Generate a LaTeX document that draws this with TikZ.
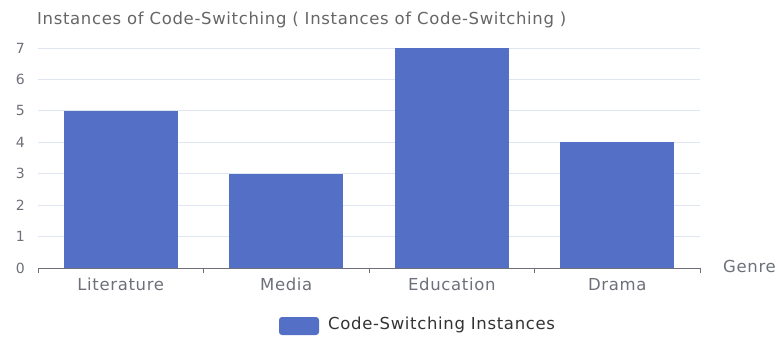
\documentclass[tikz,border=0pt]{standalone}
\usepackage{fontspec}
\setmainfont{DejaVu Sans}[LetterSpace=4]
\usepackage{tikz}
\usetikzlibrary{positioning}
\definecolor{barblue}{HTML}{5470C6}
\definecolor{gridgray}{HTML}{E0E6F1}
\definecolor{axisgray}{HTML}{6E7079}
\definecolor{titlegray}{HTML}{666666}
\tikzstyle{bar}=[fill=barblue]
\tikzstyle{gridline}=[draw=gridgray,line width=0.9pt]
\tikzstyle{axis}=[draw=axisgray,line width=1pt]
\tikzstyle{ylab}=[anchor=east,inner sep=0pt,text=axisgray,font=\fontsize{14}{14}\selectfont]
\tikzstyle{xlab}=[anchor=base,inner sep=0pt,text=axisgray,font=\fontsize{16.5}{16.5}\selectfont]
\tikzstyle{titre}=[anchor=base west,inner sep=0pt,text=titlegray,font=\fontsize{16.5}{16.5}\selectfont]
\tikzstyle{legende}=[anchor=base west,inner sep=0pt,text=black!80,font=\fontsize{16.5}{16.5}\selectfont]

\begin{document}
\begin{tikzpicture}[x=1pt,y=-1pt]
\useasboundingbox (0,0) rectangle (776,337);
\node[titre] (title) at (37,25) {Instances of Code-Switching ( Instances of Code-Switching )};
%grille et graduations
\foreach \v in {1,...,7}
  \draw[gridline] (38,{268-31.43*\v}) -- (700,{268-31.43*\v});
\foreach \v in {0,...,7}
  \node[ylab] (y\v) at (25,{268-31.43*\v}) {\v};
%barres
\foreach \nom/\val [count=\i] in {Literature/5,Media/3,Education/7,Drama/4}{
  \fill[bar] ({38+165.5*(\i-0.5)-57},268) rectangle ({38+165.5*(\i-0.5)+57},{268-31.43*\val});
  \node[xlab] (x\i) at ({38+165.5*(\i-0.5)},290.5) {\nom};
}
\draw[axis] (38,268) -- (700,268);
\foreach \i in {0,...,4}
  \draw[axis] ({38+165.5*\i},268) -- ({38+165.5*\i},273);
\node[xlab,anchor=base west] (genre) at (723,272) {Genre};
%legende
\node[fill=barblue,rounded corners=3pt,minimum width=40pt,minimum height=18pt,inner sep=0pt] (cle) at (299,326) {};
\node[legende] (serie) at (328,329.5) {Code-Switching Instances};
\end{tikzpicture}
\end{document}
